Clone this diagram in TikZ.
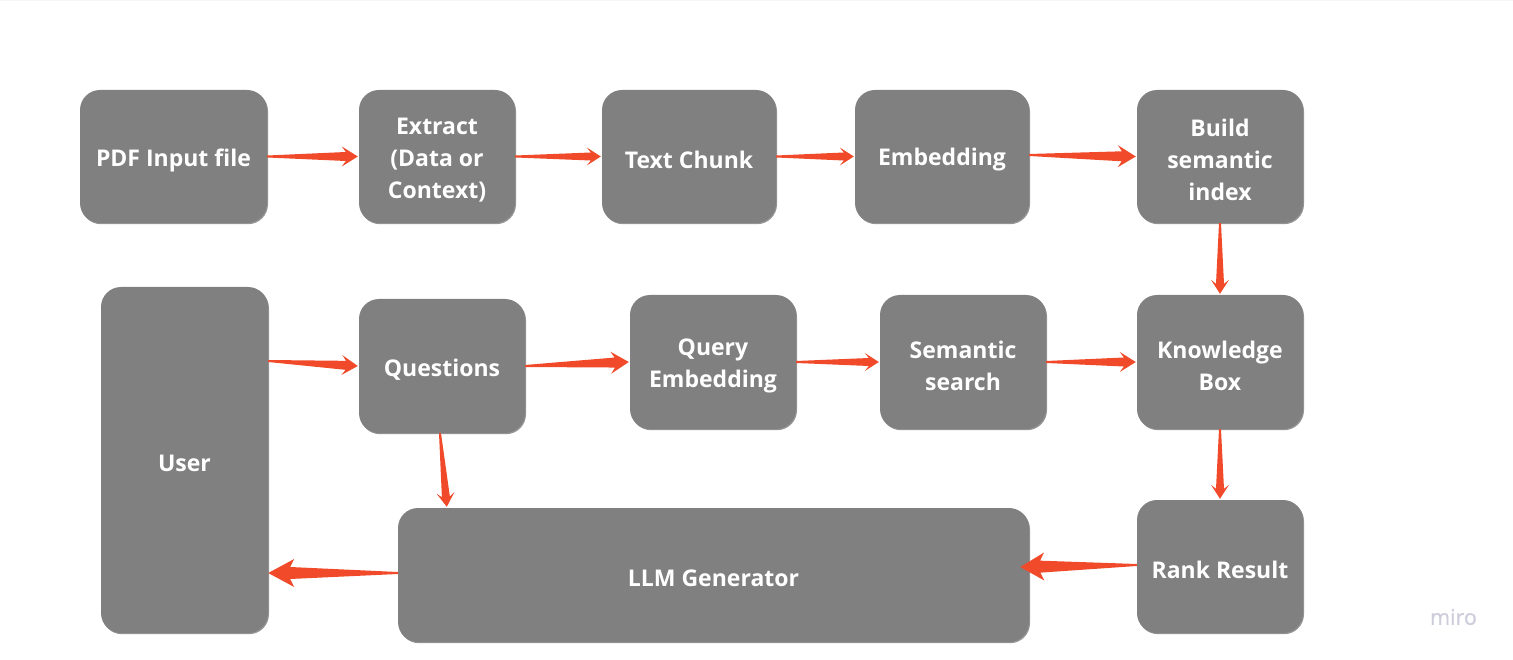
\documentclass[tikz,border=0pt]{standalone}
\usepackage{fontspec}
\setmainfont{Open Sans}
\usetikzlibrary{calc,shadows}
\definecolor{boxgray}{HTML}{808080}
\definecolor{arrowred}{HTML}{F04A2A}
\definecolor{mirogray}{HTML}{CDCDDB}
\newcommand\tarrow[6]{%
  \coordinate (tA) at (#1);
  \coordinate (tB) at (#2);
  \coordinate (tH) at ($(tB)!#6!(tA)$);
  \coordinate (tJ) at ($(tB)!#6-4pt!(tA)$);
  \fill[arrowred] ($(tA)!#3!90:(tB)$) -- ($(tJ)!#4!-90:(tA)$) -- ($(tH)!#5!-90:(tA)$)
    -- (tB) -- ($(tH)!#5!90:(tA)$) -- ($(tJ)!#4!90:(tA)$) -- ($(tA)!#3!-90:(tB)$) -- cycle;
}
\newcommand\dn[1]{\raisebox{-3.5pt}[\height][\depth]{#1}}
\newcommand\boxfont{\bfseries\fontsize{23}{32}\selectfont}
\begin{document}
\begin{tikzpicture}[x=1pt,y=-1pt,
  box/.style={fill=boxgray, rounded corners=20pt, text=white, align=center,
    font=\boxfont, inner sep=0pt,
    drop shadow={shadow xshift=1pt, shadow yshift=-1.2pt, fill=black!70, opacity=0.6}}]
\useasboundingbox (0,0) rectangle (1513,660);
\fill[black!4] (0,0) rectangle (1513,1.5);
% row 1
\node[box, minimum width=187pt, minimum height=133pt] (pdf) at (173.5,156.5) {\dn{PDF Input file}};
\node[box, minimum width=156pt, minimum height=133pt] (extract) at (437,156.5) {\dn{Extract}\\\dn{(Data or}\\\dn{Context)}};
\node[box, minimum width=174pt, minimum height=133pt] (chunk) at (689,156.5) {\dn{Text Chunk}};
\node[box, minimum width=174pt, minimum height=133pt] (embed) at (942,156.5) {\dn{Embedding}};
\node[box, minimum width=166pt, minimum height=133pt] (build) at (1220,156.5) {\dn{Build}\\\dn{semantic}\\\dn{index}};
% row 2
\node[box, minimum width=167pt, minimum height=346pt] (user) at (184.5,460) {\dn{User}};
\node[box, minimum width=166pt, minimum height=134pt] (quest) at (442,366) {\dn{Questions}};
\node[box, minimum width=166pt, minimum height=134pt] (query) at (713,362) {\dn{Query}\\\dn{Embedding}};
\node[box, minimum width=166pt, minimum height=134pt] (sem) at (963,362) {\dn{Semantic}\\\dn{search}};
\node[box, minimum width=166pt, minimum height=134pt] (know) at (1220,362) {\dn{Knowledge}\\\dn{Box}};
% row 3
\node[box, minimum width=631pt, minimum height=134pt] (llm) at (713.5,575) {\dn{LLM Generator}};
\node[box, minimum width=166pt, minimum height=133pt] (rank) at (1220,566.5) {\dn{Rank Result}};
% miro mark
\node[text=mirogray, font=\fontsize{21.5}{22}\selectfont\addfontfeature{FakeBold=1}, inner sep=0pt] (miro) at (1453.5,617) {miro};
% arrows
\tarrow{pdf.east}{$(extract.west)+(-1,0)$}{1pt}{4.5pt}{10pt}{16pt}
\tarrow{extract.east}{$(chunk.west)+(-1,0)$}{1pt}{4pt}{9pt}{14pt}
\tarrow{chunk.east}{$(embed.west)+(-1,0)$}{1pt}{4pt}{9pt}{14pt}
\tarrow{$(embed.east)+(0,-1.5)$}{$(build.west)+(-1,0)$}{1pt}{5pt}{11pt}{18pt}
\tarrow{build.south}{$(know.north)+(0,-1)$}{1pt}{4pt}{9pt}{14pt}
\tarrow{$(user.east)+(0,-99)$}{$(quest.west)+(-1,0)$}{1pt}{4.5pt}{10pt}{16pt}
\tarrow{quest.east}{$(query.west)+(-1,0)$}{1pt}{5pt}{11pt}{18pt}
\tarrow{query.east}{$(sem.west)+(-1,0)$}{1pt}{4pt}{9pt}{14pt}
\tarrow{sem.east}{$(know.west)+(-1,0)$}{1pt}{4.5pt}{10pt}{16pt}
\tarrow{know.south}{$(rank.north)+(0,-1)$}{1pt}{4pt}{9pt}{14pt}
\tarrow{$(quest.south)+(-2,0)$}{$(llm.north west)+(49,-1)$}{1pt}{4pt}{9pt}{14pt}
\tarrow{$(rank.west)+(0,-1.5)$}{$(llm.east)+(-9,-8)$}{1pt}{6pt}{14pt}{24pt}
\tarrow{$(llm.west)+(0,-2)$}{$(user.east)+(0,113)$}{1pt}{6pt}{14pt}{26pt}
\end{tikzpicture}
\end{document}
